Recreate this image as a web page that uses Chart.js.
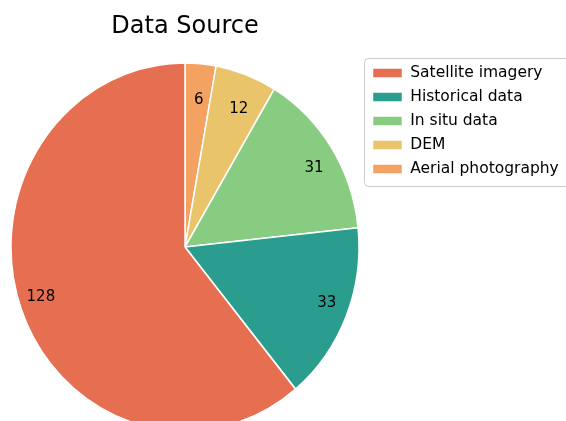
<!DOCTYPE html>
<html>
<head>
<meta charset="utf-8">
<title>Data Source</title>
<script src="https://cdn.jsdelivr.net/npm/chart.js@4/dist/chart.umd.min.js"></script>
<style>
  html, body { margin: 0; padding: 0; background: #ffffff; overflow: hidden; }
  canvas { display: block; }
</style>
</head>
<body>
<canvas id="chart" width="566" height="421"></canvas>
<script>
// Sources, listed in legend order
const categories = ['Satellite imagery', 'Historical data', 'In situ data', 'DEM', 'Aerial photography'];
const counts = [128, 33, 31, 12, 6];
const colors = ['#E76F51', '#2A9D8F', '#88CC82', '#E9C46A', '#F4A261'];

// Wedges run clockwise from 12 o'clock, smallest first, so feed them in reverse
const wedgeLabels = categories.slice().reverse();
const wedgeValues = counts.slice().reverse();
const wedgeColors = colors.slice().reverse();

const STRETCH_Y = 184 / 174;   // pie is drawn slightly taller than wide
const LABEL_RX = 0.88;         // value label distance, as fraction of radius
const LABEL_RY = 0.80;

const ovalPie = {
  id: 'ovalPie',
  beforeDatasetsDraw(chart) {
    const arc = chart.getDatasetMeta(0).data[0];
    const ctx = chart.ctx;
    ctx.save();
    ctx.translate(arc.x, arc.y);
    ctx.scale(1, STRETCH_Y);
    ctx.translate(-arc.x, -arc.y);
  },
  afterDatasetsDraw(chart) {
    const ctx = chart.ctx;
    ctx.restore();
    // value labels inside each wedge
    const meta = chart.getDatasetMeta(0);
    const data = chart.data.datasets[0].data;
    ctx.save();
    ctx.font = '15px "DejaVu Sans"';
    ctx.fillStyle = '#000000';
    ctx.textAlign = 'center';
    ctx.textBaseline = 'middle';
    meta.data.forEach((arc, i) => {
      const mid = (arc.startAngle + arc.endAngle) / 2;
      const r = arc.outerRadius;
      const x = arc.x + Math.cos(mid) * r * LABEL_RX;
      const y = arc.y + Math.sin(mid) * r * STRETCH_Y * LABEL_RY;
      ctx.fillText(String(data[i]), x, y);
    });
    ctx.restore();
  }
};

const legendFrame = {
  id: 'legendFrame',
  beforeDraw(chart) {
    const lg = chart.legend;
    if (!lg || !lg.legendHitBoxes || !lg.legendHitBoxes.length) return;
    const boxes = lg.legendHitBoxes;
    const first = boxes[0];
    const last = boxes[boxes.length - 1];
    const x = Math.round(lg.left) + 0.5;
    const y = Math.round(first.top - 7) + 0.5;
    const h = Math.round(last.top + last.height + 9 - first.top + 7);
    const w = 220;
    const ctx = chart.ctx;
    ctx.save();
    ctx.beginPath();
    ctx.roundRect(x, y, w, h, 4);
    ctx.fillStyle = 'rgba(255,255,255,0.8)';
    ctx.fill();
    ctx.strokeStyle = '#cccccc';
    ctx.lineWidth = 1;
    ctx.stroke();
    ctx.restore();
  }
};

Chart.defaults.font.family = '"DejaVu Sans", sans-serif';
Chart.defaults.color = '#000000';

new Chart(document.getElementById('chart'), {
  type: 'pie',
  data: {
    labels: wedgeLabels,
    datasets: [{
      data: wedgeValues,
      backgroundColor: wedgeColors,
      borderColor: '#ffffff',
      borderWidth: 1.5,
      radius: 174,
      clip: false
    }]
  },
  options: {
    responsive: false,
    animation: false,
    events: [],
    layout: { padding: { left: 6, right: 0, top: 0, bottom: 0 } },
    plugins: {
      title: {
        display: true,
        text: 'Data Source',
        fullSize: false,
        color: '#000000',
        font: { size: 24, weight: 'normal', lineHeight: 1.2 },
        padding: { top: 12, bottom: 32.2 }
      },
      legend: {
        position: 'right',
        align: 'start',
        reverse: true,
        maxWidth: 202,
        title: {
          display: true,
          text: ' ',
          font: { size: 10, lineHeight: 1 },
          padding: { top: 46.75, bottom: 0 }
        },
        labels: {
          boxWidth: 30,
          boxHeight: 10,
          padding: 8.5,
          color: '#000000',
          font: { size: 15.5 }
        }
      },
      tooltip: { enabled: false }
    }
  },
  plugins: [legendFrame, ovalPie]
});
</script>
</body>
</html>
